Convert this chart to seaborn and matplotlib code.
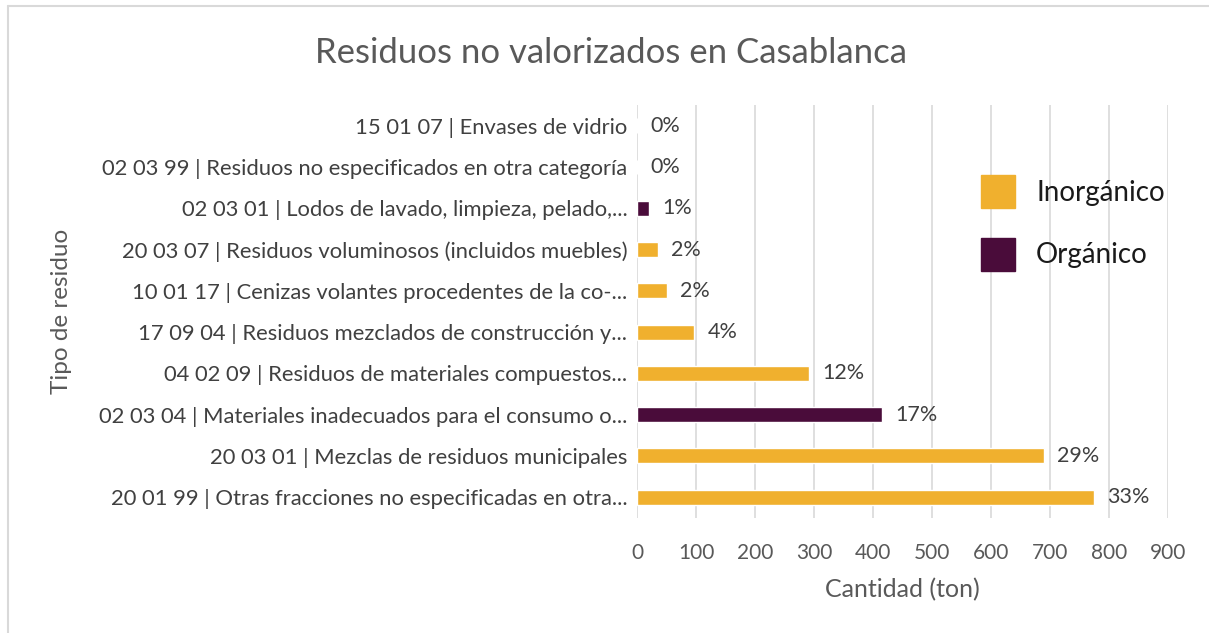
import pandas as pd
import seaborn as sns
import matplotlib.pyplot as plt
from matplotlib.lines import Line2D
from matplotlib.patches import Patch

# Data (tons), top to bottom
residuos = [
    '15 01 07 | Envases de vidrio',
    '02 03 99 | Residuos no especificados en otra categoría',
    '02 03 01 | Lodos de lavado, limpieza, pelado,...',
    '20 03 07 | Residuos voluminosos (incluidos muebles)',
    '10 01 17 | Cenizas volantes procedentes de la co-...',
    '17 09 04 | Residuos mezclados de construcción y...',
    '04 02 09 | Residuos de materiales compuestos...',
    '02 03 04 | Materiales inadecuados para el consumo o...',
    '20 03 01 | Mezclas de residuos municipales',
    '20 01 99 | Otras fracciones no especificadas en otra...',
]
cantidad = [0, 0, 20, 36, 50, 97, 292, 416, 690, 775]
tipo = ['Inorgánico', 'Orgánico', 'Orgánico', 'Inorgánico', 'Inorgánico',
        'Inorgánico', 'Inorgánico', 'Orgánico', 'Inorgánico', 'Inorgánico']
porcentaje = ['0%', '0%', '1%', '2%', '2%', '4%', '12%', '17%', '29%', '33%']

colores = {'Inorgánico': '#F0B02E', 'Orgánico': '#4A0C3A'}

df = pd.DataFrame({'residuo': residuos, 'cantidad': cantidad, 'tipo': tipo})

sns.set_style('white')
plt.rcParams['font.family'] = ['Lato', 'DejaVu Sans']

fig = plt.figure(figsize=(12.09, 6.33), dpi=100)
ax = fig.add_axes([0.527, 0.182, 0.439, 0.652])

sns.barplot(data=df, x='cantidad', y='residuo', hue='tipo', palette=colores,
            dodge=False, width=0.36, orient='h', ax=ax, legend=False,
            saturation=1)

# percentage labels next to each bar
for i, (v, p) in enumerate(zip(cantidad, porcentaje)):
    ax.text(v + 22, i, p, va='center', ha='left', fontsize=15.5, color='#404040')

ax.set_xlim(0, 900)
ax.set_xticks(range(0, 1000, 100))
ax.grid(axis='x', color='#D9D9D9', linewidth=1.2)
ax.set_axisbelow(True)
for s in ax.spines.values():
    s.set_visible(False)
ax.tick_params(axis='y', length=0, labelsize=15.8, labelcolor='#404040', pad=7)
ax.tick_params(axis='x', length=0, labelsize=15, labelcolor='#595959', pad=18)

ax.set_xlabel('Cantidad (ton)', fontsize=18, color='#595959', labelpad=11)
ax.set_ylabel('Tipo de residuo', fontsize=17.5, color='#595959')
ax.yaxis.set_label_coords(-1.065, 0.5)

fig.text(0.505, 0.917, 'Residuos no valorizados en Casablanca', fontsize=25,
         color='#595959', ha='center', va='center')

handles = [Patch(color=colores[k]) for k in ['Inorgánico', 'Orgánico']]
ax.legend(handles, ['Inorgánico', 'Orgánico'], loc='upper left',
          bbox_to_anchor=(0.6, 0.89), frameon=False, fontsize=20,
          handlelength=1.25, handleheight=1.45, labelspacing=1.05,
          handletextpad=0.75, labelcolor='#1a1a1a')

# light frame around the chart area
fig.add_artist(Line2D([0.007, 1.0], [0.991, 0.991], color='#D9D9D9', lw=1.5))
fig.add_artist(Line2D([0.007, 0.007], [0.0, 0.991], color='#D9D9D9', lw=1.5))

fig.savefig('out.png', dpi=100)
